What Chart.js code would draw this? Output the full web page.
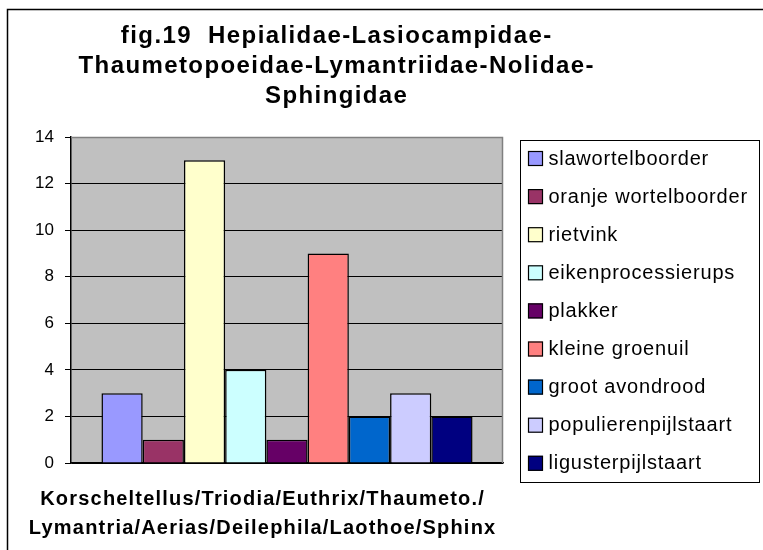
<!DOCTYPE html>
<html>
<head>
<meta charset="utf-8">
<script src="https://cdn.jsdelivr.net/npm/chart.js@4/dist/chart.umd.min.js"></script>
<style>
  html, body { margin: 0; padding: 0; background: #fff; }
  #wrap { width: 763px; height: 550px; }
</style>
</head>
<body>
<div id="wrap"><canvas id="c" width="763" height="550"></canvas></div>
<script>
// ---- data ----
const categories = ['Korscheltellus/Triodia/Euthrix/Thaumeto./Lymantria/Aerias/Deilephila/Laothoe/Sphinx'];
const seriesNames = ['slawortelboorder', 'oranje wortelboorder', 'rietvink', 'eikenprocessierups', 'plakker', 'kleine groenuil', 'groot avondrood', 'populierenpijlstaart', 'ligusterpijlstaart'];
const seriesValues = [3, 1, 13, 4, 1, 9, 2, 3, 2];
const seriesColors = ['#9999FF', '#993366', '#FFFFCC', '#CCFFFF', '#660066', '#FF8080', '#0066CC', '#CCCCFF', '#000080'];
const yTicks = [0, 2, 4, 6, 8, 10, 12, 14];
const titleLines = ['fig.19  Hepialidae-Lasiocampidae-', 'Thaumetopoeidae-Lymantriidae-Nolidae-', 'Sphingidae'];
const xTitleLines = ['Korscheltellus/Triodia/Euthrix/Thaumeto./', 'Lymantria/Aerias/Deilephila/Laothoe/Sphinx'];

const FONT = "'Liberation Sans', Arial, sans-serif";

function spacedText(ctx, text, x, y, spacing) {
  if ('letterSpacing' in ctx) {
    ctx.letterSpacing = spacing + 'px';
    ctx.fillText(text, x + spacing / 2, y);
    ctx.letterSpacing = '0px';
  } else {
    ctx.fillText(text, x, y);
  }
}

const decor = {
  id: 'decor',
  beforeDraw(chart) {
    const ctx = chart.ctx;
    const a = chart.chartArea;
    ctx.save();
    ctx.fillStyle = '#fff';
    ctx.fillRect(0, 0, chart.width, chart.height);
    ctx.fillStyle = '#C0C0C0';
    ctx.fillRect(a.left, a.top, a.right - a.left, a.bottom - a.top);
    ctx.restore();
  },
  afterDraw(chart) {
    const ctx = chart.ctx;
    const a = chart.chartArea;
    ctx.save();
    // plot border (top / right) gray
    ctx.strokeStyle = '#808080';
    ctx.lineWidth = 1.5;
    ctx.beginPath();
    ctx.moveTo(a.left, a.top + 0.5);
    ctx.lineTo(a.right - 0.5, a.top + 0.5);
    ctx.lineTo(a.right - 0.5, a.bottom);
    ctx.stroke();

    // outer chart frame
    ctx.strokeStyle = '#000';
    ctx.lineWidth = 1.5;
    ctx.strokeRect(7.5, 9.5, 820, 600);

    // title
    ctx.fillStyle = '#000';
    ctx.textAlign = 'center';
    ctx.textBaseline = 'alphabetic';
    ctx.font = 'bold 24px ' + FONT;
    titleLines.forEach((t, i) => spacedText(ctx, t, 336, 43 + i * 30, 1.4));

    // x axis title
    ctx.font = 'bold 20px ' + FONT;
    const xc = 262;
    xTitleLines.forEach((t, i) => spacedText(ctx, t, xc, a.bottom + 42 + i * 29, 1.2));

    // legend
    const lx = a.right + 17, ly = a.top + 3, lw = 239, lh = 342;
    ctx.strokeStyle = '#000';
    ctx.lineWidth = 1;
    ctx.strokeRect(lx + 0.5, ly + 0.5, lw, lh);
    ctx.font = '20px ' + FONT;
    ctx.textAlign = 'left';
    ctx.textBaseline = 'middle';
    chart.data.datasets.forEach((ds, i) => {
      const cy = ly + 18 + i * 38.1;
      ctx.fillStyle = ds.backgroundColor;
      ctx.fillRect(lx + 8, cy - 7, 15, 15);
      ctx.strokeStyle = '#000';
      ctx.lineWidth = 1.2;
      ctx.strokeRect(lx + 8.5, cy - 6.5, 14, 14);
      ctx.fillStyle = '#000';
      spacedText(ctx, ds.label, lx + 28, cy + 1, 0.8);
    });
    ctx.restore();
  }
};

const datasets = seriesNames.map((name, i) => ({
  label: name,
  data: [seriesValues[i]],
  backgroundColor: seriesColors[i],
  borderColor: '#000',
  borderWidth: 1.5,
  categoryPercentage: 0.859,
  barPercentage: 1.0
}));

new Chart(document.getElementById('c'), {
  type: 'bar',
  data: { labels: categories, datasets },
  options: {
    responsive: false,
    animation: false,
    layout: { padding: { top: 137, right: 260, bottom: 87, left: 0 } },
    plugins: {
      legend: { display: false },
      title: { display: false },
      tooltip: { enabled: false }
    },
    scales: {
      x: {
        ticks: { display: false },
        grid: { display: false, drawTicks: false },
        border: { display: true, color: '#000', width: 1.5 },
        afterFit(scale) { scale.height = 0; }
      },
      y: {
        min: 0,
        max: 14,
        afterBuildTicks(scale) { scale.ticks = yTicks.map(v => ({ value: v })); },
        afterFit(scale) { scale.width = 71; },
        ticks: {
          color: '#000',
          padding: 11,
          font: { family: FONT, size: 17 }
        },
        grid: {
          color: ctx => (ctx.tick && ctx.tick.value === 14) ? 'rgba(0,0,0,0)' : '#000',
          lineWidth: 1,
          tickLength: 6,
          tickColor: '#000'
        },
        border: { display: true, color: '#000', width: 1.5 }
      }
    }
  },
  plugins: [decor]
});
</script>
</body>
</html>
